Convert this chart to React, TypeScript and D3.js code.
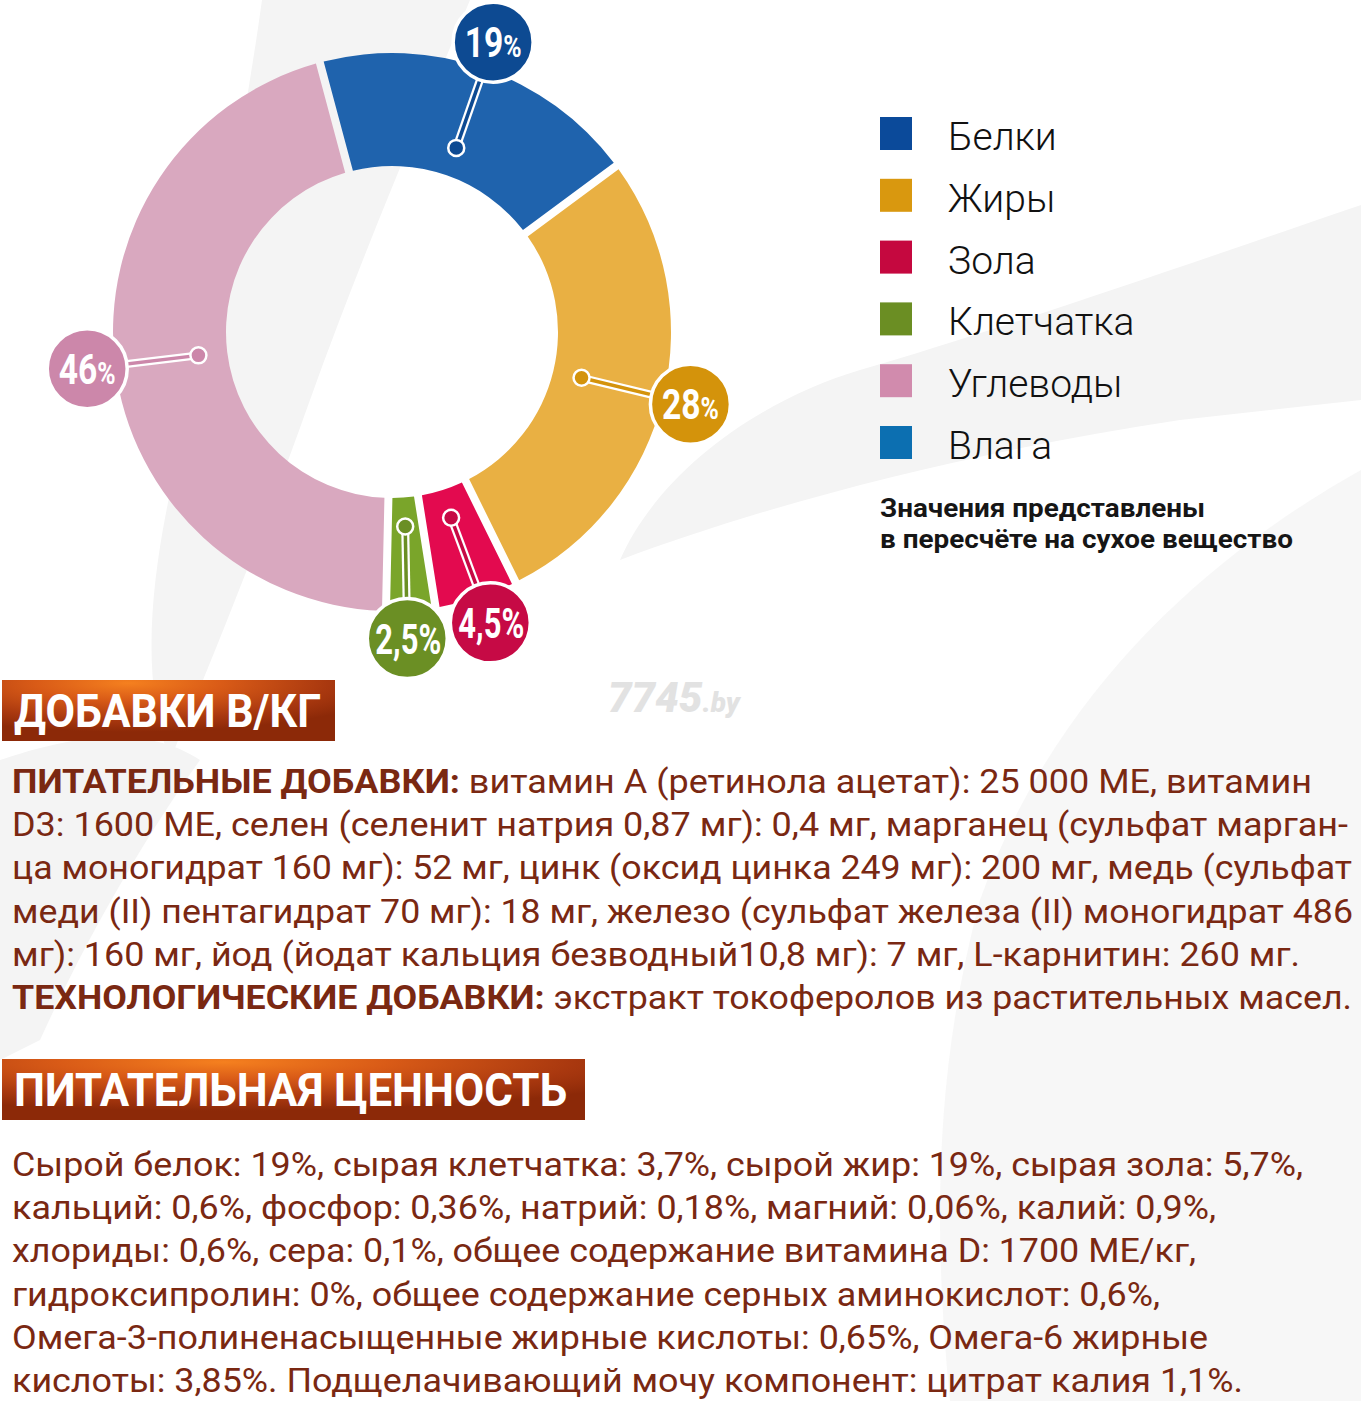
import React from "react";
import * as d3 from "d3";

const categories = ["Белки", "Жиры", "Зола", "Клетчатка", "Углеводы", "Влага"];
const values = [19, 28, 4.5, 2.5, 46, 0];
const sliceColors = ["#1f63ad", "#e9b043", "#e30a4f", "#7aa52a", "#d9a8bf", "#0c6fb1"];
const badgeColors = ["#0d4a92", "#d4930b", "#c60a45", "#6b8f24", "#cc87aa", "#0c6fb1"];
const legendColors = ["#0b4a9a", "#d9980f", "#c5083f", "#6b8e23", "#d18bad", "#0c6fb1"];

const noteLines = ["Значения представлены", "в пересчёте на сухое вещество"];

const header1 = "ДОБАВКИ В/КГ";
const header2 = "ПИТАТЕЛЬНАЯ ЦЕННОСТЬ";

type Seg = { t: string; b?: boolean };
const block1: Seg[][] = [
  [{ t: "ПИТАТЕЛЬНЫЕ ДОБАВКИ:", b: true }, { t: " витамин А (ретинола ацетат): 25 000 МЕ, витамин" }],
  [{ t: "D3: 1600 МЕ, селен (селенит натрия 0,87 мг): 0,4 мг, марганец (сульфат марган-" }],
  [{ t: "ца моногидрат 160 мг): 52 мг, цинк (оксид цинка 249 мг): 200 мг, медь (сульфат" }],
  [{ t: "меди (II) пентагидрат 70 мг): 18 мг, железо (сульфат железа (II) моногидрат 486" }],
  [{ t: "мг): 160 мг, йод (йодат кальция безводный10,8 мг): 7 мг, L-карнитин: 260 мг." }],
  [{ t: "ТЕХНОЛОГИЧЕСКИЕ ДОБАВКИ:", b: true }, { t: " экстракт токоферолов из растительных масел." }],
];
const block1Widths = [1300, 1336, 1340, 1341, 1288, 1340];

const block2: Seg[][] = [
  [{ t: "Сырой белок: 19%, сырая клетчатка: 3,7%, сырой жир: 19%, сырая зола: 5,7%," }],
  [{ t: "кальций: 0,6%, фосфор: 0,36%, натрий: 0,18%, магний: 0,06%, калий: 0,9%," }],
  [{ t: "хлориды: 0,6%, сера: 0,1%, общее содержание витамина D: 1700 МЕ/кг," }],
  [{ t: "гидроксипролин: 0%, общее содержание серных аминокислот: 0,6%," }],
  [{ t: "Омега-3-полиненасыщенные жирные кислоты: 0,65%, Омега-6 жирные" }],
  [{ t: "кислоты: 3,85%. Подщелачивающий мочу компонент: цитрат калия 1,1%." }],
];
const block2Widths = [1291, 1204, 1184, 1148, 1196, 1231];

const W = 1361;
const H = 1401;
const cx = 392;
const cy = 332;
const innerR = 166;
const outerR = 279;
const badgeR = 40;
const labelR = 307;
const dotR = 195;
const deg = Math.PI / 180;

const TEXT = "#7a2812";

function polar(r: number, a: number): [number, number] {
  return [cx + r * Math.sin(a), cy - r * Math.cos(a)];
}

function fmt(v: number) {
  return String(v).replace(".", ",");
}

export default function App() {
  const items = categories
    .map((c, i) => ({ c, v: values[i], i }))
    .filter((d) => d.v > 0);
  const padRadius = Math.sqrt(innerR * innerR + outerR * outerR);
  const pie = d3
    .pie<{ c: string; v: number; i: number }>()
    .sort(null)
    .value((d) => d.v)
    .startAngle(-15 * deg)
    .endAngle(345 * deg)
    .padAngle(8 / padRadius);
  const arcs = pie(items);
  const arc = d3
    .arc<d3.PieArcDatum<{ c: string; v: number; i: number }>>()
    .innerRadius(innerR)
    .outerRadius(outerR)
    .padRadius(padRadius);

  const mids = arcs.map((a) => (a.startAngle + a.endAngle) / 2);
  const la = mids.slice();
  const minD = 2 * badgeR + 4;
  for (let it = 0; it < 200; it++) {
    for (let i = 0; i < la.length; i++) {
      for (let j = i + 1; j < la.length; j++) {
        const [x1, y1] = polar(labelR, la[i]);
        const [x2, y2] = polar(labelR, la[j]);
        const d = Math.hypot(x1 - x2, y1 - y2);
        if (d < minD) {
          const step = 0.002;
          if (la[i] < la[j]) {
            la[i] -= step;
            la[j] += step;
          } else {
            la[i] += step;
            la[j] -= step;
          }
        }
      }
    }
  }

  const legendY = d3.scaleBand<string>().domain(categories).range([117, 117 + 61.8 * 6]);

  const renderLines = (lines: Seg[][], widths: number[], y0: number, step: number) =>
    lines.map((segs, li) => (
      <text
        key={li}
        x={12}
        y={y0 + li * step}
        fontFamily="Roboto, 'Noto Sans', sans-serif"
        fontSize={34}
        fill={TEXT}
        textLength={widths[li]}
        lengthAdjust="spacingAndGlyphs"
        style={{ whiteSpace: "pre" }}
      >
        {segs.map((s, si) => (
          <tspan key={si} fontWeight={s.b ? 700 : 400}>
            {s.t}
          </tspan>
        ))}
      </text>
    ));

  return (
    <svg
      width={W}
      height={H}
      viewBox={`0 0 ${W} ${H}`}
      style={{ position: "absolute", left: 0, top: 0, display: "block", background: "#fff" }}
    >
      <defs>
        <radialGradient id="hdr" cx="0.38" cy="0.05" r="0.8" fx="0.38" fy="0.05">
          <stop offset="0" stopColor="#f5801f" />
          <stop offset="0.35" stopColor="#d95b17" />
          <stop offset="0.75" stopColor="#a9380f" />
          <stop offset="1" stopColor="#8c2908" />
        </radialGradient>
      </defs>
      <rect x={0} y={0} width={W} height={H} fill="#ffffff" />
      {/* faint background leaves */}
      <g fill="#f4f4f4">
        <path d="M262,0 L470,0 C420,120 360,260 310,400 C260,540 220,640 170,760 C140,680 150,580 175,470 C205,320 240,160 262,0 Z" />
        <path d="M0,760 C60,740 140,720 200,760 C150,830 90,930 40,1040 L0,1060 Z" />
        <path d="M1361,205 C1200,260 1000,330 860,370 C760,400 660,470 620,560 C780,500 980,450 1180,420 L1361,400 Z" />
        <path d="M1361,470 C1200,560 1050,700 980,900 C940,1050 930,1200 950,1401 L1361,1401 Z" opacity={0.7} />
      </g>

      {/* donut */}
      <g transform={`translate(${cx},${cy})`}>
        {arcs.map((a) => (
          <path key={a.data.c} d={arc(a) || ""} fill={sliceColors[a.data.i]} />
        ))}
      </g>

      {/* connectors */}
      {arcs.map((a, k) => {
        const [dx, dy] = polar(dotR, mids[k]);
        const [bx, by] = polar(labelR, la[k]);
        const col = badgeColors[a.data.i];
        return (
          <g key={"c" + a.data.c}>
            <line x1={dx} y1={dy} x2={bx} y2={by} stroke="#fff" strokeWidth={8} />
            <line x1={dx} y1={dy} x2={bx} y2={by} stroke={col} strokeWidth={3.5} />
            <circle cx={dx} cy={dy} r={8} fill={col} stroke="#fff" strokeWidth={2.5} />
          </g>
        );
      })}

      {/* badges */}
      {arcs.map((a, k) => {
        const [bx, by] = polar(labelR, la[k]);
        const col = badgeColors[a.data.i];
        const num = fmt(a.data.v);
        const small = num.length <= 2;
        return (
          <g key={"b" + a.data.c}>
            <circle cx={bx} cy={by} r={badgeR} fill={col} stroke="#fff" strokeWidth={3.5} />
            <text
              transform={`translate(${bx + (small ? 0 : 1)},${by + 15}) scale(${small ? 0.8 : 0.72},1)`}
              textAnchor="middle"
              fontFamily="Roboto, sans-serif"
              fontWeight={700}
              fontSize={small ? 42 : 43}
              fill="#fff"
            >
              {num}
              <tspan fontSize={small ? 31 : 43}>%</tspan>
            </text>
          </g>
        );
      })}

      {/* legend */}
      {categories.map((c, i) => {
        const y = legendY(c) as number;
        return (
          <g key={"l" + c}>
            <rect x={880} y={y} width={32} height={33} fill={legendColors[i]} />
            <text
              x={948}
              y={y + 33}
              fontFamily="Roboto, sans-serif"
              fontWeight={300}
              fontSize={39}
              fill="#111"
            >
              {c}
            </text>
          </g>
        );
      })}
      {noteLines.map((t, i) => (
        <text
          key={"n" + i}
          x={880}
          y={517 + i * 31}
          fontFamily="Roboto, sans-serif"
          fontWeight={700}
          fontSize={26}
          fill="#161616"
          textLength={i === 0 ? 325 : 413}
          lengthAdjust="spacingAndGlyphs"
        >
          {t}
        </text>
      ))}

      {/* watermark */}
      <text x={608} y={712} fontFamily="Roboto, sans-serif" fontWeight={900} fontStyle="italic" fontSize={42} fill="#e2e2e2">
        7745<tspan fontSize={28}>.by</tspan>
      </text>

      {/* header 1 */}
      <rect x={2} y={680} width={333} height={61} fill="url(#hdr)" />
      <text
        x={14}
        y={727}
        fontFamily="Roboto, sans-serif"
        fontWeight={700}
        fontSize={46}
        fill="#fff"
        textLength={307}
        lengthAdjust="spacingAndGlyphs"
      >
        {header1}
      </text>
      {renderLines(block1, block1Widths, 793, 43.2)}

      {/* header 2 */}
      <rect x={2} y={1059} width={583} height={61} fill="url(#hdr)" />
      <text
        x={14}
        y={1106}
        fontFamily="Roboto, sans-serif"
        fontWeight={700}
        fontSize={46}
        fill="#fff"
        textLength={553}
        lengthAdjust="spacingAndGlyphs"
      >
        {header2}
      </text>
      {renderLines(block2, block2Widths, 1176, 43.2)}
    </svg>
  );
}
